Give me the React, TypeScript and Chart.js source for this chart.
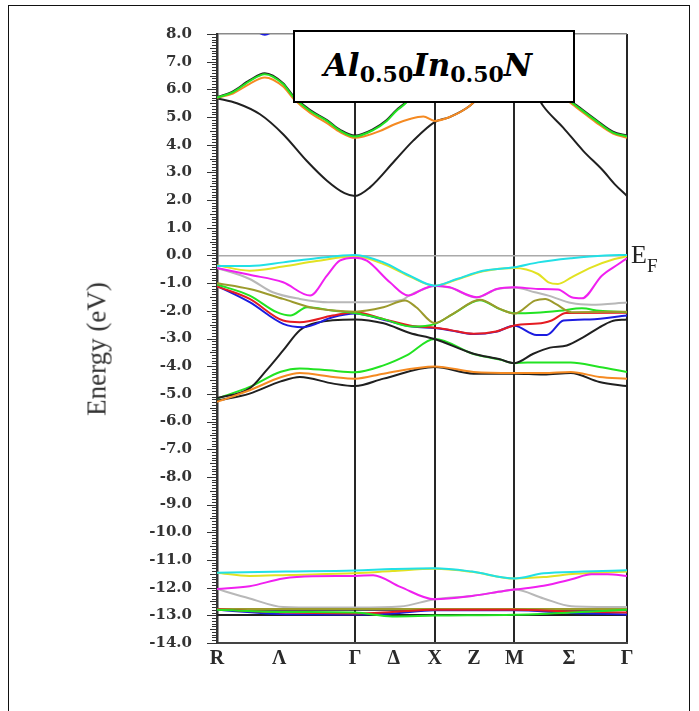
import React, { useEffect, useRef } from 'react';
import { Chart, registerables } from 'chart.js';

Chart.register(...registerables);

type Pt = [number, number];

// k-path: R(0) - Γ(1.732) - X(2.732) - M(3.732) - Γ(5.146)
const xTickPositions = [0, 0.78, 1.732, 2.22, 2.732, 3.225, 3.732, 4.42, 5.146];
const xTickLabels = ['R', 'Λ', 'Γ', 'Δ', 'X', 'Z', 'M', 'Σ', 'Γ'];
const symmetryLines = [1.732, 2.732, 3.732, 5.146];
const yMin = -14;
const yMax = 8;

// ---- conduction bands ----
const cbLowBlack: Pt[] = [[0, 5.68], [0.25, 5.5], [0.54, 5.1], [0.83, 4.38], [1.125, 3.42], [1.38, 2.7], [1.6, 2.25], [1.732, 2.15], [1.92, 2.46], [2.23, 3.42], [2.46, 4.14], [2.732, 4.82], [2.92, 5.0], [3.17, 5.4], [3.45, 6.2], [3.732, 6.8], [3.95, 6.1], [4.094, 5.4], [4.345, 4.62], [4.596, 3.78], [4.847, 3.06], [5.0, 2.55], [5.146, 2.15]];
const cbUpBlack: Pt[] = [[0, 5.72], [0.2, 5.93], [0.41, 6.33], [0.6, 6.58], [0.83, 6.22], [0.96, 5.75], [1.17, 5.25], [1.38, 4.89], [1.55, 4.53], [1.732, 4.33], [1.96, 4.56], [2.13, 4.89], [2.25, 5.25], [2.36, 5.51], [2.55, 6.1], [2.732, 6.4], [3.232, 6.8], [3.732, 7.0], [4.1, 6.3], [4.51, 5.43], [4.76, 4.89], [4.97, 4.47], [5.146, 4.33]];
const cbOrange: Pt[] = [[0, 5.7], [0.2, 5.85], [0.41, 6.2], [0.6, 6.43], [0.83, 6.1], [0.96, 5.66], [1.17, 5.15], [1.38, 4.78], [1.55, 4.45], [1.732, 4.25], [1.84, 4.3], [2.05, 4.5], [2.23, 4.74], [2.42, 4.93], [2.59, 5.02], [2.732, 4.86], [2.92, 5.0], [3.17, 5.4], [3.45, 6.2], [3.732, 6.6], [4.1, 6.2], [4.51, 5.35], [4.76, 4.8], [4.97, 4.4], [5.146, 4.25]];
const cbGreen: Pt[] = [[0, 5.7], [0.2, 5.9], [0.41, 6.3], [0.6, 6.55], [0.83, 6.19], [0.96, 5.72], [1.17, 5.22], [1.38, 4.86], [1.55, 4.5], [1.732, 4.3], [1.96, 4.53], [2.13, 4.86], [2.25, 5.22], [2.36, 5.48], [2.55, 6.1], [2.732, 6.4], [3.232, 6.8], [3.732, 7.0], [4.1, 6.3], [4.51, 5.4], [4.76, 4.86], [4.97, 4.44], [5.146, 4.3]];
const cbBlue: Pt[] = [[0.3, 8.8], [0.6, 7.97], [0.9, 8.8]];

// ---- upper valence bands ----
const vbCyan: Pt[] = [[0, -0.38], [0.41, -0.38], [0.83, -0.25], [1.25, -0.1], [1.732, 0.02], [2.09, -0.25], [2.42, -0.73], [2.732, -1.09], [3.01, -0.85], [3.34, -0.55], [3.732, -0.43], [4.03, -0.25], [4.45, -0.1], [4.87, 0.0], [5.146, 0.02]];
const vbYellow: Pt[] = [[0, -0.35], [0.41, -0.55], [0.83, -0.4], [1.25, -0.2], [1.732, -0.03], [2.09, -0.31], [2.42, -0.76], [2.732, -1.1], [3.01, -0.87], [3.34, -0.57], [3.732, -0.45], [4.03, -0.67], [4.16, -0.97], [4.28, -1.03], [4.45, -0.79], [4.7, -0.43], [4.99, -0.13], [5.146, -0.03]];
const vbMagenta: Pt[] = [[0, -0.45], [0.41, -0.7], [0.83, -0.97], [1.17, -1.45], [1.38, -0.73], [1.54, -0.19], [1.732, -0.08], [1.88, -0.19], [2.17, -0.97], [2.4, -1.45], [2.59, -1.21], [2.732, -1.09], [2.92, -1.15], [3.26, -1.51], [3.51, -1.21], [3.732, -1.15], [4.03, -1.21], [4.28, -1.23], [4.45, -1.51], [4.58, -1.55], [4.83, -0.73], [5.04, -0.31], [5.146, -0.1]];
const vbGray: Pt[] = [[0, -0.45], [0.41, -0.85], [0.7, -1.33], [1.04, -1.57], [1.4, -1.69], [1.732, -1.69], [2.05, -1.68], [2.33, -1.6], [2.4, -1.47], [2.59, -1.22], [2.732, -1.1], [2.92, -1.16], [3.26, -1.52], [3.51, -1.22], [3.732, -1.16], [3.99, -1.33], [4.16, -1.45], [4.45, -1.72], [4.7, -1.78], [5.146, -1.7]];
const vbOlive: Pt[] = [[0, -1.0], [0.41, -1.21], [0.83, -1.57], [1.17, -1.87], [1.46, -1.99], [1.732, -2.03], [2.09, -1.87], [2.36, -1.63], [2.5, -1.87], [2.732, -2.44], [2.96, -2.11], [3.3, -1.6], [3.55, -1.93], [3.732, -2.1], [3.99, -1.63], [4.12, -1.57], [4.25, -1.75], [4.45, -2.05], [5.146, -2.03]];
const vbGreen: Pt[] = [[0, -1.05], [0.41, -1.45], [0.75, -2.05], [0.92, -2.17], [1.13, -1.87], [1.45, -1.99], [1.732, -2.08], [2.09, -2.3], [2.45, -2.57], [2.732, -2.48], [2.96, -2.12], [3.3, -1.62], [3.55, -1.94], [3.732, -2.09], [4.0, -2.07], [4.3, -2.0], [4.58, -1.91], [4.8, -2.0], [5.146, -2.05]];
const vbRed: Pt[] = [[0, -1.12], [0.41, -1.57], [0.83, -2.35], [1.04, -2.41], [1.45, -2.17], [1.732, -2.05], [2.09, -2.3], [2.45, -2.55], [2.732, -2.61], [2.92, -2.69], [3.22, -2.83], [3.5, -2.75], [3.732, -2.53], [4.1, -2.43], [4.2, -2.35], [4.38, -2.08], [5.146, -2.07]];
const vbBlue: Pt[] = [[0, -1.1], [0.41, -1.69], [0.83, -2.47], [1.08, -2.59], [1.45, -2.23], [1.732, -2.1], [2.09, -2.32], [2.45, -2.57], [2.732, -2.62], [2.92, -2.7], [3.22, -2.84], [3.5, -2.76], [3.732, -2.54], [4.01, -2.87], [4.14, -2.87], [4.35, -2.35], [4.68, -2.31], [5.146, -2.17]];
const vbBlack: Pt[] = [[0, -5.15], [0.41, -4.8], [0.62, -4.15], [0.83, -3.43], [1.04, -2.7], [1.25, -2.43], [1.732, -2.31], [2.09, -2.45], [2.42, -2.8], [2.732, -3.02], [3.22, -3.55], [3.55, -3.75], [3.732, -3.89], [3.97, -3.55], [4.18, -3.33], [4.39, -3.25], [4.6, -2.95], [4.8, -2.6], [4.95, -2.38], [5.146, -2.31]];

// ---- lower valence bands ----
const lvGreen: Pt[] = [[0, -5.17], [0.41, -4.75], [0.8, -4.2], [1.04, -4.08], [1.4, -4.15], [1.732, -4.22], [2.09, -3.97], [2.38, -3.61], [2.732, -3.02], [3.22, -3.56], [3.55, -3.76], [3.732, -3.89], [3.9, -3.87], [4.44, -3.87], [4.8, -4.03], [5.146, -4.21]];
const lvOrange: Pt[] = [[0, -5.29], [0.41, -4.87], [0.8, -4.4], [1.04, -4.25], [1.46, -4.39], [1.732, -4.45], [2.09, -4.27], [2.732, -4.01], [3.22, -4.21], [3.732, -4.25], [4.1, -4.25], [4.44, -4.21], [4.8, -4.39], [5.146, -4.45]];
const lvBlack: Pt[] = [[0, -5.25], [0.41, -4.99], [0.8, -4.55], [1.04, -4.39], [1.46, -4.63], [1.732, -4.72], [2.09, -4.45], [2.732, -4.03], [3.22, -4.27], [3.732, -4.27], [4.1, -4.3], [4.44, -4.25], [4.8, -4.57], [5.146, -4.72]];

// ---- semicore bands ----
const scCyan: Pt[] = [[0, -11.46], [0.866, -11.42], [1.732, -11.38], [2.2, -11.33], [2.732, -11.3], [3.2, -11.42], [3.732, -11.67], [4.1, -11.48], [4.6, -11.42], [5.146, -11.37]];
const scYellow: Pt[] = [[0, -11.46], [0.41, -11.58], [0.9, -11.54], [1.732, -11.48], [2.2, -11.4], [2.732, -11.32], [3.2, -11.43], [3.732, -11.67], [4.1, -11.62], [4.5, -11.5], [5.146, -11.42]];
const scMagenta: Pt[] = [[0, -12.05], [0.41, -11.95], [0.83, -11.67], [1.2, -11.59], [1.732, -11.58], [1.96, -11.55], [2.3, -11.97], [2.732, -12.42], [3.2, -12.3], [3.6, -12.12], [3.732, -12.07], [4.1, -11.93], [4.45, -11.7], [4.7, -11.52], [4.9, -11.52], [5.146, -11.58]];
const scGray: Pt[] = [[0, -12.05], [0.41, -12.39], [0.83, -12.7], [1.3, -12.72], [1.732, -12.72], [2.3, -12.68], [2.732, -12.42], [3.2, -12.3], [3.6, -12.12], [3.732, -12.07], [4.1, -12.39], [4.45, -12.67], [5.146, -12.7]];
const scOlive: Pt[] = [[0, -12.77], [1.732, -12.77], [2.732, -12.77], [3.732, -12.77], [5.146, -12.77]];
const scBlackTop: Pt[] = [[0, -12.8], [1.732, -12.8], [2.732, -12.8], [3.732, -12.8], [5.146, -12.8]];
const scBlackBottom: Pt[] = [[0, -12.99], [1.732, -12.99], [2.732, -12.99], [3.732, -12.99], [5.146, -12.99]];
const scGreen: Pt[] = [[0, -12.8], [0.866, -12.88], [1.732, -12.9], [2.2, -13.04], [2.732, -13.01], [3.732, -12.98], [4.44, -12.9], [5.146, -12.8]];
const scRed: Pt[] = [[0, -12.78], [0.866, -12.9], [1.732, -12.93], [2.2, -12.88], [2.732, -12.8], [3.732, -12.8], [4.44, -12.86], [5.146, -12.9]];
const scBlue: Pt[] = [[0, -12.8], [0.866, -12.96], [1.732, -12.97], [2.2, -12.93], [2.732, -12.82], [3.732, -12.82], [4.44, -12.92], [5.146, -12.97]];

const BLACK = '#202020';
const GRAY = '#b8b8b8';
const GREEN = '#22e322';
const ORANGE = '#f58a22';
const RED = '#e51c22';
const BLUE = '#1c1ce0';
const CYAN = '#22e0e6';
const YELLOW = '#e2e222';
const MAGENTA = '#f020f0';
const OLIVE = '#9c9a2c';

// drawing order: first = bottom
const bands: { pts: Pt[]; color: string }[] = [
  { pts: vbGray, color: GRAY },
  { pts: scGray, color: GRAY },
  { pts: lvGreen, color: GREEN },
  { pts: cbLowBlack, color: BLACK },
  { pts: cbUpBlack, color: BLACK },
  { pts: vbBlack, color: BLACK },
  { pts: lvBlack, color: BLACK },
  { pts: scBlackTop, color: BLACK },
  { pts: scBlackBottom, color: BLACK },
  { pts: scOlive, color: OLIVE },
  { pts: vbBlue, color: BLUE },
  { pts: scBlue, color: BLUE },
  { pts: cbBlue, color: BLUE },
  { pts: vbRed, color: RED },
  { pts: scRed, color: RED },
  { pts: vbGreen, color: GREEN },
  { pts: vbOlive, color: OLIVE },
  { pts: cbOrange, color: ORANGE },
  { pts: lvOrange, color: ORANGE },
  { pts: scGreen, color: GREEN },
  { pts: cbGreen, color: GREEN },
  { pts: vbYellow, color: YELLOW },
  { pts: scYellow, color: YELLOW },
  { pts: vbMagenta, color: MAGENTA },
  { pts: scMagenta, color: MAGENTA },
  { pts: vbCyan, color: CYAN },
  { pts: scCyan, color: CYAN },
];

const rulerPlugin = {
  id: 'ruler',
  afterDraw(chart: any) {
    const ys = chart.scales.y;
    const ctx = chart.ctx;
    const x0 = ys.right;
    ctx.save();
    ctx.strokeStyle = '#333';
    ctx.lineWidth = 1;
    for (let i = yMin * 10; i <= yMax * 10; i++) {
      const py = Math.round(ys.getPixelForValue(i / 10)) + 0.5;
      const len = i % 10 === 0 ? 10 : i % 5 === 0 ? 7 : 5;
      ctx.beginPath();
      ctx.moveTo(x0 - len, py);
      ctx.lineTo(x0, py);
      ctx.stroke();
    }
    ctx.restore();
  },
};

function BandChart() {
  const ref = useRef<HTMLCanvasElement | null>(null);
  useEffect(() => {
    if (!ref.current) return;
    const n = bands.length;
    const chart = new Chart(ref.current, {
      type: 'line',
      data: {
        datasets: bands.map((b, i) => ({
          data: b.pts.map(([x, y]) => ({ x, y })),
          borderColor: b.color,
          borderWidth: 2,
          pointRadius: 0,
          fill: false,
          cubicInterpolationMode: 'monotone' as const,
          order: n - i,
        })),
      },
      options: {
        animation: false,
        responsive: false,
        maintainAspectRatio: false,
        events: [],
        layout: { padding: { left: 0, right: 72, top: 33, bottom: 28 } },
        plugins: { legend: { display: false }, tooltip: { enabled: false } },
        scales: {
          x: {
            type: 'linear',
            min: 0,
            max: 5.146,
            afterBuildTicks: (scale: any) => {
              scale.ticks = xTickPositions.map((v) => ({ value: v }));
            },
            afterFit: (scale: any) => {
              scale.height = 40;
            },
            ticks: {
              autoSkip: false,
              maxRotation: 0,
              padding: 4,
              color: '#2a2a2a',
              font: { family: 'Liberation Serif', size: 20, weight: 'bold' },
              callback: (_v: any, i: number) => xTickLabels[i],
            },
            grid: {
              drawTicks: false,
              lineWidth: 2,
              color: (ctx: any) =>
                ctx.tick && symmetryLines.some((s) => Math.abs(s - ctx.tick.value) < 1e-6) ? '#262626' : 'rgba(0,0,0,0)',
            },
            border: { display: true, color: '#444', width: 2 },
          },
          y: {
            type: 'linear',
            min: yMin,
            max: yMax,
            afterFit: (scale: any) => {
              scale.width = 217;
            },
            ticks: {
              stepSize: 1,
              padding: 25,
              color: '#333',
              font: { family: 'DejaVu Serif', size: 15, weight: 'bold' },
              callback: (v: any) => Number(v).toFixed(1),
            },
            grid: {
              drawTicks: false,
              lineWidth: 1.5,
              color: (ctx: any) =>
                ctx.tick && ctx.tick.value === 0 ? '#aaaaaa' : ctx.tick && ctx.tick.value === yMax ? '#8a8a8a' : 'rgba(0,0,0,0)',
            },
            border: { display: true, color: '#333', width: 2.5 },
          },
        },
      },
      plugins: [rulerPlugin],
    } as any);
    return () => chart.destroy();
  }, []);
  return <canvas ref={ref} width={699} height={711} style={{ position: 'absolute', left: 0, top: 0, width: 699, height: 711 }} />;
}

export default function App() {
  const sub: React.CSSProperties = { fontStyle: 'normal', fontSize: 22, position: 'relative', top: 6 };
  return (
    <div style={{ position: 'fixed', left: 0, top: 0, width: 699, height: 711, overflow: 'hidden', background: '#fff' }}>
      <div style={{ position: 'absolute', left: 8, top: 5, width: 682, height: 730, border: '1px solid #111', boxSizing: 'border-box' }} />
      <BandChart />
      <div
        style={{
          position: 'absolute', left: 97, top: 349, transform: 'translate(-50%, -50%) rotate(-90deg)',
          whiteSpace: 'nowrap', font: '27px "Liberation Serif"', color: '#333', lineHeight: '27px',
        }}
      >
        Energy (eV)
      </div>
      <div style={{ position: 'absolute', left: 631, top: 242, font: '26px "Liberation Serif"', lineHeight: '26px', color: '#222' }}>E</div>
      <div style={{ position: 'absolute', left: 647, top: 256, font: '19px "Liberation Serif"', lineHeight: '19px', color: '#222' }}>F</div>
      <div
        style={{
          position: 'absolute', left: 293, top: 30, width: 282, height: 73, boxSizing: 'border-box',
          border: '2px solid #000', background: '#fff', display: 'flex', alignItems: 'center', justifyContent: 'center',
        }}
      >
        <span style={{ font: 'italic bold 31px "DejaVu Serif"', lineHeight: '31px', whiteSpace: 'nowrap', color: '#000', marginRight: 12 }}>
          Al<span style={sub}>0.50</span>In<span style={sub}>0.50</span>N
        </span>
      </div>
    </div>
  );
}
